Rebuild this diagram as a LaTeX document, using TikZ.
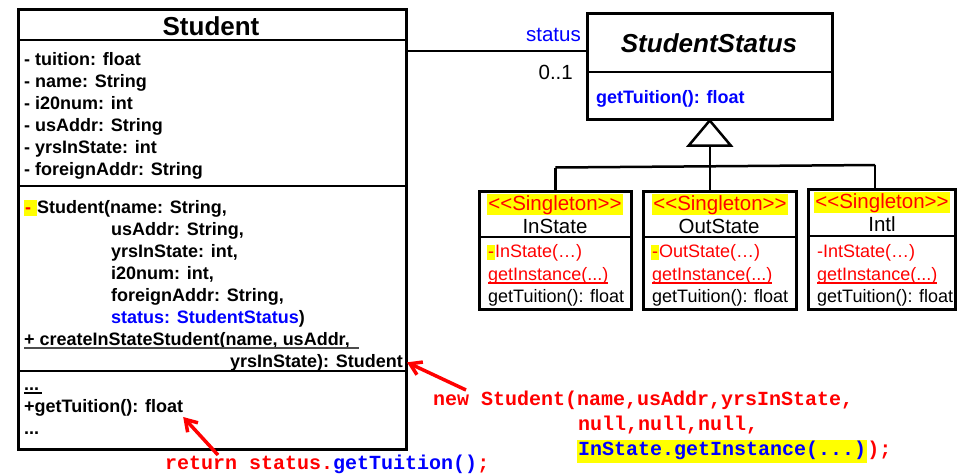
\documentclass[tikz,border=0pt]{standalone}
\usepackage{fontspec}
\setmainfont{Liberation Sans}
\newfontfamily\codefont{Liberation Mono}
\usetikzlibrary{arrows.meta}
\definecolor{umlred}{RGB}{255,0,0}
\definecolor{umlblue}{RGB}{0,0,255}
\definecolor{hlyellow}{RGB}{255,255,0}
% yellow marker behind a short piece of text
\newcommand\hlbox[3]{{\setlength\fboxsep{1pt}\colorbox{hlyellow}{\rule[-#1]{0pt}{#2}#3}}}
% stereotype text, kept apart so the angle brackets stay plain
\newcommand\singleton{<\kern0pt<Singleton>\kern0pt>}
\tikzset{
  box/.style={draw, line width=2.5pt, inner sep=0pt, anchor=north west},
  sep/.style={line width=2.5pt},
  conn/.style={line width=2.5pt},
  txt/.style={inner sep=0pt, anchor=base west, font=\fontsize{18}{22}\selectfont},
  btxt/.style={txt, font=\fontsize{18}{22}\selectfont\bfseries},
  ctxt/.style={txt, anchor=base},
  code/.style={inner sep=0pt, anchor=base west, font=\fontsize{20}{24}\codefont\bfseries},
  redarrow/.style={draw=umlred, line width=3.5pt, -{Straight Barb[length=11pt,width=14pt]}},
  uline/.style={line width=1.5pt},
}
\begin{document}
\begin{tikzpicture}[x=1pt,y=-1pt]
\useasboundingbox (0,0) rectangle (970,475);

% ---------- class Student ----------
\node[box, minimum width=388pt, minimum height=440pt] (stu) at (17,8) {};
\draw[sep] (stu.west |- 0,40) -- (stu.east |- 0,40);
\draw[sep] (stu.west |- 0,186) -- (stu.east |- 0,186);
\draw[sep] (stu.west |- 0,371) -- (stu.east |- 0,371);
\node[inner sep=0pt, anchor=base, font=\fontsize{26}{30}\selectfont\bfseries] (stuname) at (211,35) {Student};

\node[btxt] (a1) at (24,65)  {- tuition: float};
\node[btxt] (a2) at (24,87)  {- name: String};
\node[btxt] (a3) at (24,109) {- i20num: int};
\node[btxt] (a4) at (24,131) {- usAddr: String};
\node[btxt] (a5) at (24,153) {- yrsInState: int};
\node[btxt] (a6) at (24,175) {- foreignAddr: String};

\node[btxt] (m1) at (24,213) {\hlbox{2pt}{14pt}{\textcolor{umlred}{-}\ }Student(name: String,};
\node[btxt] (m2) at (111,235) {usAddr: String,};
\node[btxt] (m3) at (111,257) {yrsInState: int,};
\node[btxt] (m4) at (111,279) {i20num: int,};
\node[btxt] (m5) at (111,301) {foreignAddr: String,};
\node[btxt] (m6) at (111,323) {\textcolor{umlblue}{status: StudentStatus})};
\node[btxt] (m7) at (24,345) {+ createInStateStudent(name, usAddr,};
\draw[uline, black!70] ([yshift=-3pt]m7.base west) -- ([xshift=9pt,yshift=-3pt]m7.base east);
\node[btxt, anchor=base east] (m8) at (403,367) {yrsInState): Student};
\node[btxt] (m9) at (24,390) {...};
\draw[uline] ([yshift=-3pt]m9.base west) -- ([xshift=3pt,yshift=-3pt]m9.base east);
\node[btxt] (m10) at (24,412) {+getTuition(): float};
\node[btxt] (m11) at (24,434) {...};

% ---------- abstract class StudentStatus ----------
\node[box, minimum width=245pt, minimum height=106pt] (ss) at (586,12) {};
\draw[sep] (ss.west |- 0,72) -- (ss.east |- 0,72);
\node[inner sep=0pt, anchor=base, font=\fontsize{26}{30}\selectfont\bfseries\itshape] (ssname) at (709,52) {StudentStatus};
\node[btxt] (ssm) at (596,103) {\textcolor{umlblue}{getTuition(): float}};

% association Student -- StudentStatus
\draw[conn] (stu.east |- 0,51) -- (ss.west |- 0,51);
\node[txt, anchor=base east, font=\fontsize{20.5}{24}\selectfont] (role) at (581,41) {\textcolor{umlblue}{status}};
\node[txt, anchor=base east, font=\fontsize{20.5}{24}\selectfont] (mult) at (573,79) {0..1};

% ---------- subclasses ----------
\node[box, minimum width=152pt, minimum height=118pt] (ins) at (478,190) {};
\node[box, minimum width=153pt, minimum height=118pt] (outs) at (642,190) {};
\node[box, minimum width=147pt, minimum height=120pt] (intl) at (807,188) {};
\draw[sep] (ins.west |- 0,237) -- (ins.east |- 0,237);
\draw[sep] (outs.west |- 0,237) -- (outs.east |- 0,237);
\draw[sep] (intl.west |- 0,236) -- (intl.east |- 0,236);

% generalization
\coordinate (tbase) at ([yshift=-25pt]ss.south);
\coordinate (hub) at ([yshift=-47pt]ss.south);
\coordinate (jintl) at (875,165);
\draw[conn] (tbase) -- (hub);
\draw[conn] (ins.north |- hub) -- (jintl);
\draw[conn] (ins.north |- hub) -- (ins.north);
\draw[conn] (hub) -- (hub |- outs.north);
\draw[conn] (jintl) -- (jintl |- intl.north);
\draw[conn, fill=white, line join=miter] (ss.south) -- ([xshift=-21pt]tbase) -- ([xshift=21pt]tbase) -- cycle;

% InState
\node[ctxt, font=\fontsize{20.5}{24}\selectfont] (s1) at (555,210) {\hlbox{4pt}{17pt}{\textcolor{umlred}{\singleton}}};
\node[ctxt, font=\fontsize{20.5}{24}\selectfont] (n1) at (555,233) {InState};
\node[txt] (i1) at (487,257) {\hlbox{2pt}{13pt}{\textcolor{umlred}{-}}\textcolor{umlred}{InState(…)}};
\node[txt] (i2) at (488,280) {\textcolor{umlred}{getInstance(...)}};
\draw[uline, umlred] ([yshift=-3pt]i2.base west) -- ([yshift=-3pt]i2.base east);
\node[txt] (i3) at (488,302) {getTuition(): float};

% OutState
\node[ctxt, font=\fontsize{20.5}{24}\selectfont] (s2) at (720,210) {\hlbox{4pt}{17pt}{\textcolor{umlred}{\singleton}}};
\node[ctxt, font=\fontsize{20.5}{24}\selectfont] (n2) at (719,233) {OutState};
\node[txt] (o1) at (651,257) {\hlbox{2pt}{13pt}{\textcolor{umlred}{-}}\textcolor{umlred}{OutState(…)}};
\node[txt] (o2) at (652,280) {\textcolor{umlred}{getInstance(...)}};
\draw[uline, umlred] ([yshift=-3pt]o2.base west) -- ([yshift=-3pt]o2.base east);
\node[txt] (o3) at (652,302) {getTuition(): float};

% Intl
\node[ctxt, font=\fontsize{20.5}{24}\selectfont] (s3) at (882,208) {\hlbox{4pt}{17pt}{\textcolor{umlred}{\singleton}}};
\node[ctxt, font=\fontsize{20.5}{24}\selectfont] (n3) at (882,231) {Intl};
\node[txt] (t1) at (817,257) {\textcolor{umlred}{-IntState(…)}};
\node[txt] (t2) at (817,280) {\textcolor{umlred}{getInstance(...)}};
\draw[uline, umlred] ([yshift=-3pt]t2.base west) -- ([yshift=-3pt]t2.base east);
\node[txt] (t3) at (817,302) {getTuition(): float};

% ---------- code notes ----------
\node[code] (c1) at (433,405) {\textcolor{umlred}{new Student(name,usAddr,yrsInState,}};
\node[code] (c2) at (578,430) {\textcolor{umlred}{null,null,null,}};
\node[code] (c3) at (577,455) {\hlbox{7pt}{15pt}{\textcolor{umlblue}{InState.getInstance(...)}}\textcolor{umlred}{);}};
\node[code] (ret) at (165,469) {\textcolor{umlred}{return status.}\textcolor{umlblue}{getTuition()}\textcolor{umlred}{;}};

\coordinate (a1tail) at (466,390);
\coordinate (a2tail) at (218,455);
\draw[redarrow] (a1tail) -- ([xshift=4pt]m8.east);
\draw[redarrow] (a2tail) -- ([yshift=-5pt]m10.base east);
\end{tikzpicture}
\end{document}
